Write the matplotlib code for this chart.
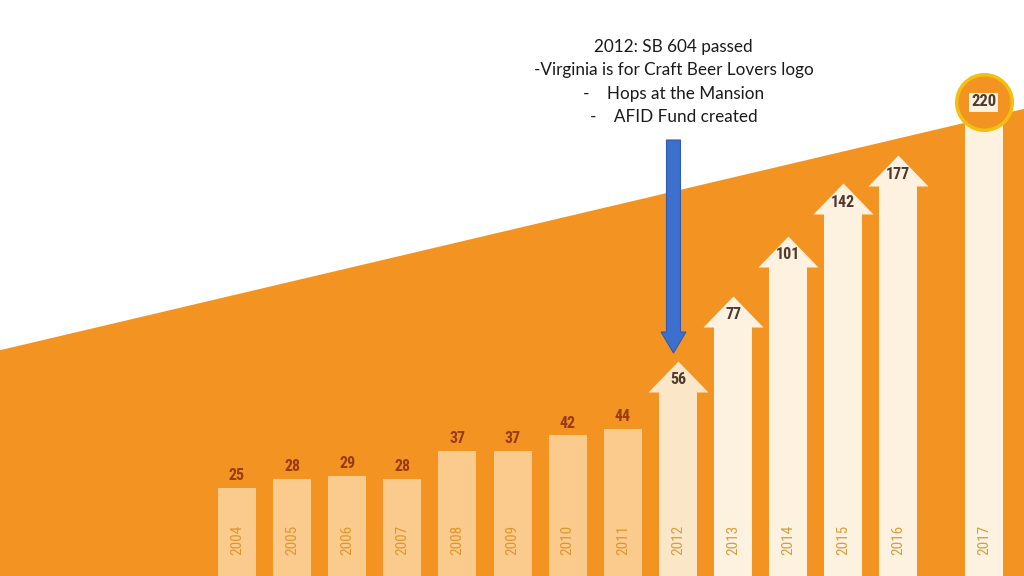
import numpy as np
import matplotlib
matplotlib.use('Agg')
import matplotlib.pyplot as plt
import matplotlib.transforms as mtransforms
from matplotlib import font_manager
from matplotlib.path import Path
from matplotlib.patches import Polygon, FancyArrow


# Data

years = ['2004', '2005', '2006', '2007', '2008', '2009', '2010',
         '2011', '2012', '2013', '2014', '2015', '2016', '2017']
breweries = [25, 28, 29, 28, 37, 37, 42, 44, 56, 77, 101, 142, 177, 220]
first_arrow = '2012'

note_lines = ['2012: SB 604 passed',
              '-Virginia is for Craft Beer Lovers logo',
              '-    Hops at the Mansion',
              '-    AFID Fund created']


# Colours / fonts

ORANGE = '#F39322'
PEACH = '#FBCA8D'
CREAM = '#FDF1DF'
CREAM2 = '#FBE6C8'
NUM_BAR = '#9A3A12'
NUM_ARROW = '#4E3A2E'
YEAR_BAR = '#E0962E'
YEAR_ARROW = '#D79E3E'
BLUE = '#3D6FCD'

installed = {f.name for f in font_manager.fontManager.ttflist}
NARROW = [f for f in ['Roboto Condensed', 'Liberation Sans Narrow', 'DejaVu Sans Condensed',
                      'Open Sans Condensed', 'Roboto'] if f in installed] + ['DejaVu Sans']
plt.rcParams['font.family'] = ['Lato', 'DejaVu Sans']


# Infographic scale (not linear, compresses the big years)

vk = np.array([-60, 0, 80, 100, 140, 180, 220, 400], dtype=float)
pk = np.array([-175.6, 10.4, 258.4, 308, 360, 392, 474, 816], dtype=float)

def fwd(v):
    return np.interp(v, vk, pk)

def inv(p):
    return np.interp(p, pk, vk)


fig = plt.figure(figsize=(10.24, 5.76), dpi=100)
fig.patch.set_facecolor('white')
ax = fig.add_axes([0, 0, 1, 1])
ax.set_yscale('function', functions=(fwd, inv))
y0, y1 = float(inv(0)), float(inv(576))
ax.set_ylim(y0, y1)

pos = np.arange(len(years), dtype=float)
pos[-1] += 0.55
ax.set_xlim(-4.30, 14.28)
ax.axis('off')

# orange background wedge
ax.add_patch(Polygon([(0, 0), (0, 0.392), (1, 0.811), (1, 0)], closed=True,
                     transform=ax.transAxes, facecolor=ORANGE, edgecolor='none', zorder=0))

vals = np.array(breweries, dtype=float)
split = years.index(first_arrow)
bw = 0.69
blend = mtransforms.blended_transform_factory(ax.transData, ax.transAxes)

# plain bars
ax.bar(pos[:split], vals[:split] - y0, bottom=y0, width=bw, color=PEACH, zorder=2)
for x, v in zip(pos[:split], vals[:split]):
    ax.annotate(str(int(v)), (x, v), xytext=(0, 3.5), textcoords='offset points',
                ha='center', va='bottom', fontsize=11.5, fontweight='bold',
                color=NUM_BAR, family=NARROW, zorder=4)

# arrows
head = Path([(-30, 0), (30, 0), (0, 31), (-30, 0)],
            [Path.MOVETO, Path.LINETO, Path.LINETO, Path.CLOSEPOLY])
arrow_cols = [CREAM2] + [CREAM] * (len(years) - split - 1)
ax.bar(pos[split:], vals[split:] - y0, bottom=y0, width=bw, color=arrow_cols, zorder=2)
for x, v, c in zip(pos[split:-1], vals[split:-1], arrow_cols[:-1]):
    ax.plot(x, v, marker=head, ms=44.64, color=c, mew=0, zorder=2)
    ax.annotate(str(int(v)), (x, v), xytext=(0, 3.5), textcoords='offset points',
                ha='center', va='bottom', fontsize=11.5, fontweight='bold',
                color=NUM_ARROW, family=NARROW, zorder=4)

# last year: circle badge
ax.plot(pos[-1], vals[-1], marker='o', ms=40, mfc=ORANGE, mec='#F2C00E', mew=2.5, zorder=3)
ax.text(pos[-1], vals[-1], str(int(vals[-1])), ha='center', va='center',
        fontsize=12, fontweight='bold', color=NUM_ARROW, family=NARROW, zorder=4,
        bbox=dict(boxstyle='square,pad=0.12', fc=CREAM, ec='none'))

# year labels inside bars
for i, (x, yr) in enumerate(zip(pos, years)):
    ax.text(x, 0.0625, yr, transform=blend, rotation=90, ha='center', va='center',
            fontsize=11, color=YEAR_BAR if i < split else YEAR_ARROW,
            family=NARROW, zorder=4)

# blue pointer arrow
xa = pos[split] - 0.08
ax.add_patch(FancyArrow(xa, 1 - 140 / 576, 0, -(353 - 140) / 576, width=0.254,
                        head_width=0.45, head_length=21 / 576, length_includes_head=True,
                        transform=blend, facecolor=BLUE, edgecolor='#2F5BB0', lw=0.8, zorder=5))

# annotation
for k, line in enumerate(note_lines):
    ax.text(xa, 1 - (47 + 23.3 * k) / 576, line, transform=blend, ha='center', va='center',
            fontsize=12.3, color='#1a1a1a', zorder=5)

plt.savefig('out.png', dpi=100)
